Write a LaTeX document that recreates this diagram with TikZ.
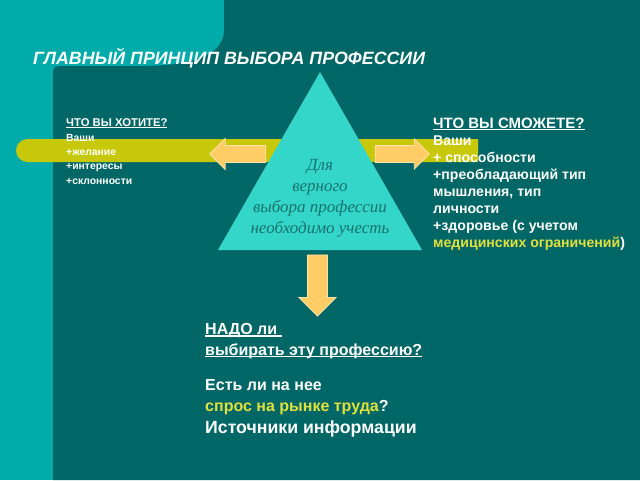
\documentclass[tikz,border=0pt]{standalone}
\usepackage{fontspec}
\setmainfont{Liberation Sans}
\newfontfamily\trifont{Liberation Serif}
\usepackage{tikz}
\usetikzlibrary{positioning}
\usetikzlibrary{shapes, arrows}

\definecolor{paleteal}{RGB}{0,171,170}
\definecolor{deepteal}{RGB}{0,102,102}
\definecolor{trifill}{RGB}{51,214,200}
\definecolor{tritext}{RGB}{25,115,110}
\definecolor{barfill}{RGB}{200,200,10}
\definecolor{arrowfill}{RGB}{255,204,102}
\definecolor{arrowedge}{RGB}{255,228,170}
\definecolor{hiyellow}{RGB}{225,225,60}

% underline drawn just below the baseline
\newcommand\undertxt[1]{\setbox0\hbox{#1}\rlap{\rule[-0.14em]{\wd0}{0.08em}}\box0}

\begin{document}
\begin{tikzpicture}
[
x=1pt, y=-1pt,
inner sep=0pt,
txt/.style={text=white, align=left, anchor=base west},
bigarrow/.style={single arrow, fill=arrowfill, draw=arrowedge, line width=0.8pt},
]
\useasboundingbox (0,0) rectangle (640,480);

% background
\fill[paleteal] (0,0) rectangle (640,480);
\fill[deepteal] (224,0) -- (640,0) -- (640,480) -- (53,480) -- (53,78)
  .. controls (53,66) .. (65,66) -- (140,66)
  .. controls (200,66) and (224,52) .. (224,30) -- cycle;

% yellow band behind the triangle
\node[rounded rectangle, rounded rectangle right arc=none, fill=barfill,
  minimum width=462pt, minimum height=23pt] (band) at (247,150.5) {};

% triangle
\coordinate (top) at (320,72);
\coordinate (baseL) at (218,250);
\coordinate (baseR) at (422,250);
\fill[trifill] (top) -- (baseR) -- (baseL) -- cycle;
\node[anchor=base, align=center, text=tritext, font=\trifont\itshape\fontsize{17}{21}\selectfont] (mind) at (320,233)
  {Для\\верного\\выбора профессии\\необходимо учесть};

% arrows
\node[bigarrow, shape border rotate=180, inner sep=8pt, minimum height=56pt,
  single arrow head extend=7pt] (wantarrow) at (242,154) {};
\node[bigarrow, inner sep=8pt, minimum height=54pt,
  single arrow head extend=6.5pt] (canarrow) at (398,154) {};
\node[bigarrow, shape border rotate=270, inner sep=9.5pt, minimum height=61pt,
  single arrow head extend=8.5pt] (needarrow) at (317.5,280.5) {};

% title
\node[txt, font=\bfseries\itshape\fontsize{17.8}{20}\selectfont] (title) at (33,64)
  {ГЛАВНЫЙ ПРИНЦИП ВЫБОРА ПРОФЕССИИ};

% left text
\node[txt, font=\bfseries\fontsize{10.4}{14.3}\selectfont] (want) at (66,184)
  {{\fontsize{11.3}{14.3}\selectfont\undertxt{ЧТО ВЫ ХОТИТЕ?}}\\Ваши\\+желание\\+интересы\\+склонности};

% right text
\node[txt, font=\bfseries\fontsize{14.1}{17}\selectfont] (can) at (433,247)
  {{\fontsize{15}{17}\selectfont\undertxt{ЧТО ВЫ СМОЖЕТЕ?}}\\Ваши\\+ способности\\+преобладающий тип\\мышления, тип\\личности\\+здоровье (с учетом\\\textcolor{hiyellow}{медицинских ограничений})};

% bottom text
\node[txt, font=\bfseries\fontsize{16}{20.5}\selectfont] (need) at (205,433)
  {\undertxt{НАДО ли\ }\\\undertxt{выбирать эту профессию?}\\[15pt]Есть ли на нее\\\textcolor{hiyellow}{спрос на рынке труда}?\\[1.5pt]{\fontsize{17.7}{20.5}\selectfont Источники информации}};
\end{tikzpicture}
\end{document}
